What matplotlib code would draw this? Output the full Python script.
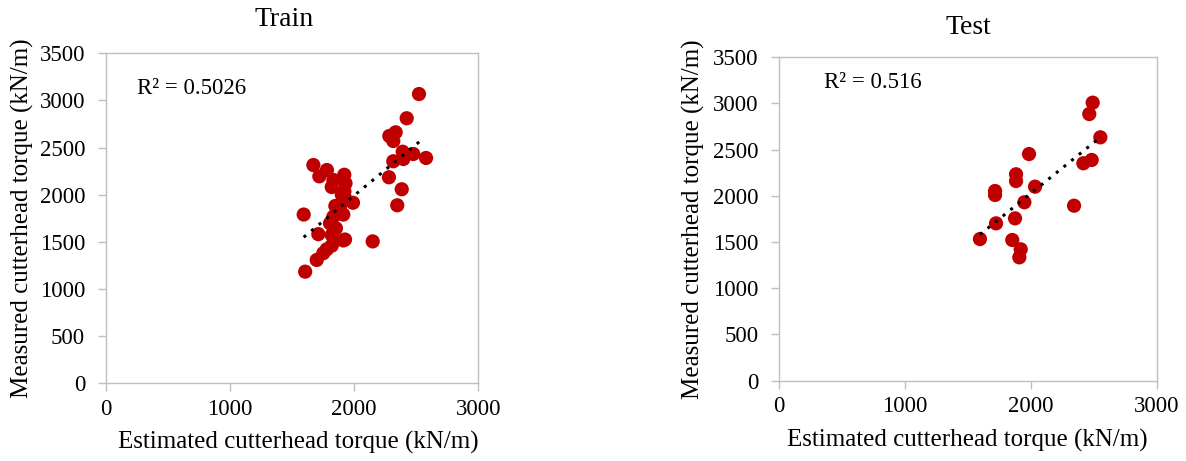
import numpy as np
import matplotlib
matplotlib.use("Agg")
import matplotlib.pyplot as plt

plt.rcParams["font.family"] = ["Liberation Serif", "DejaVu Serif"]

# training set (estimated vs measured cutterhead torque, kN/m)
train_est = [2522, 2423, 2283, 2334, 2315, 2391, 2476, 2579, 2396, 2315,
             2280, 2383, 2347, 2149, 1671, 1719, 1780, 1832, 1920, 1930,
             1819, 1921, 1926, 1990, 1848, 1912, 1593, 1832, 1805, 1853,
             1711, 1819, 1912, 1926, 1819, 1778, 1751, 1698, 1605, 1885,
             1900]
train_meas = [3068, 2811, 2623, 2662, 2570, 2456, 2432, 2390, 2379, 2355,
              2185, 2058, 1888, 1505, 2315, 2195, 2262, 2156, 2212, 2121,
              2082, 2035, 1965, 1915, 1881, 1790, 1790, 1767, 1697, 1644,
              1582, 1573, 1515, 1525, 1460, 1420, 1380, 1308, 1184, 1870,
              2000]

# test set
test_est = [2491, 2464, 2552, 2483, 2417, 1985, 1882, 1882, 1715, 1715,
            2033, 1948, 2343, 1723, 1874, 1595, 1852, 1919, 1908]
test_meas = [3009, 2886, 2634, 2389, 2353, 2453, 2234, 2161, 2053, 2010,
             2100, 1931, 1894, 1703, 1757, 1533, 1523, 1422, 1335]

titles = ["Train", "Test"]
r2_labels = ["R\u00b2 = 0.5026", "R\u00b2 = 0.516"]

W, H = 1186, 461
fig = plt.figure(figsize=(W / 100, H / 100), dpi=100)

# axes boxes in pixels: left, top, right, bottom
boxes = [(106, 53.3, 478.3, 383.3), (779.3, 57.3, 1156.7, 380.7)]
title_pos = [(284, 20), (968, 27)]
r2_pos = [(192, 88), (873, 82)]
ylab_x = [22, 693]
xlab_pos = [(298, 442), (967, 440)]

grey = "#BFBFBF"
for i, (est, meas) in enumerate([(train_est, train_meas), (test_est, test_meas)]):
    l, t, r, b = boxes[i]
    ax = fig.add_axes([l / W, 1 - b / H, (r - l) / W, (b - t) / H])

    ax.scatter(est, meas, s=105, color="#C00000", edgecolors="none", zorder=2)

    coef = np.polyfit(est, meas, 1)
    xs = np.array([min(est), max(est) - 25])
    ax.plot(xs, np.polyval(coef, xs), color="black", linestyle=(0, (1, 2.2)),
            linewidth=2.2, zorder=3)

    ax.set_xlim(0, 3000)
    ax.set_ylim(0, 3500)
    ax.set_xticks([0, 1000, 2000, 3000])
    ax.set_yticks(range(0, 3501, 500))
    for s in ax.spines.values():
        s.set_color(grey)
        s.set_linewidth(1)
    ax.tick_params(axis="both", colors=grey, labelcolor="black", length=6,
                   width=1, labelsize=16.5)
    ax.tick_params(axis="y", pad=9)
    ax.tick_params(axis="x", pad=5)

    fig.text(title_pos[i][0] / W, 1 - title_pos[i][1] / H, titles[i],
             fontsize=20, ha="center", va="center")
    fig.text(r2_pos[i][0] / W, 1 - r2_pos[i][1] / H, r2_labels[i],
             fontsize=16.5, ha="center", va="center")
    fig.text(ylab_x[i] / W, 1 - (t + b) / 2 / H, "Measured cutterhead torque (kN/m)",
             fontsize=18, rotation=90, ha="center", va="center")
    fig.text(xlab_pos[i][0] / W, 1 - xlab_pos[i][1] / H,
             "Estimated cutterhead torque (kN/m)", fontsize=18,
             ha="center", va="center")

fig.savefig("out.png", dpi=100)
